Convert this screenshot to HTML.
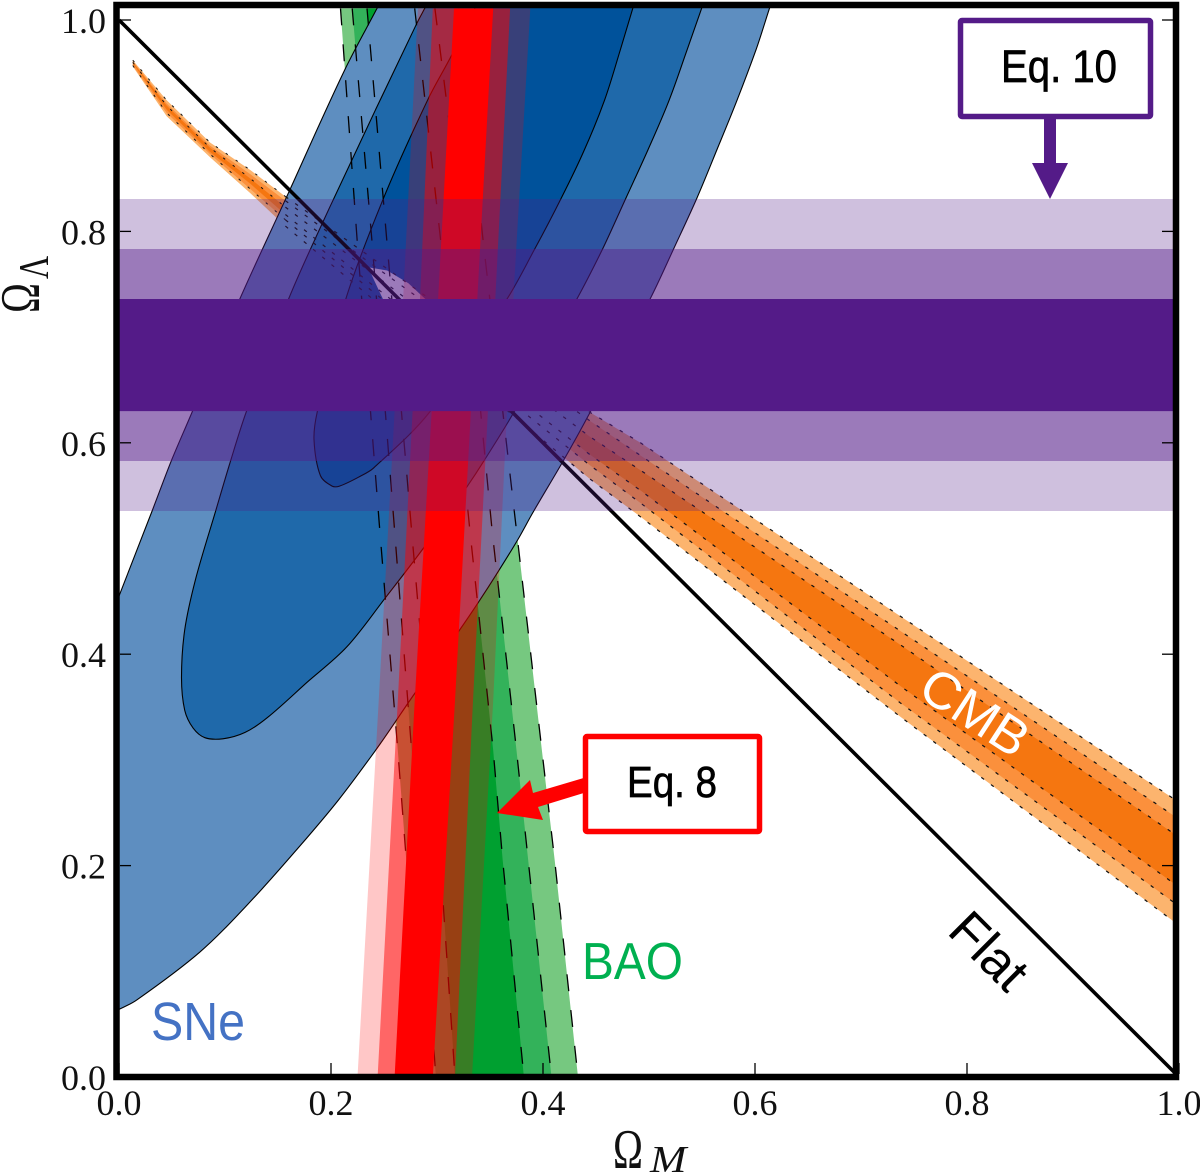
<!DOCTYPE html>
<html lang="en">
<head>
<meta charset="utf-8">
<title>Omega M vs Omega Lambda constraints</title>
<style>
html,body{margin:0;padding:0;background:#fff;}
svg{display:block;}
.tick-label{font-family:"Liberation Serif",serif;font-size:36px;fill:#111;}
.sans{font-family:"Liberation Sans",sans-serif;}
.serif{font-family:"Liberation Serif",serif;}
</style>
</head>
<body>
<svg id="chart" xmlns="http://www.w3.org/2000/svg" width="1200" height="1174" viewBox="0 0 1200 1174">
  <defs>
    <clipPath id="plot-clip"><rect x="116" y="4" width="1060" height="1073"/></clipPath>
  </defs>
  <g id="plot-layers" clip-path="url(#plot-clip)">
    <g id="bao-fills"></g>
    <g id="cmb-fills"></g>
    <g id="sne-fills"></g>
    <g id="dash-lines"></g>
    <g id="flat-layer"></g>
    <g id="red-fills"></g>
    <g id="purple-fills"></g>
  </g>
  <rect x="116.5" y="5" width="1059.5" height="1072" fill="none" stroke="#000" stroke-width="6.5"/>
  <g id="ticks"></g>
  <g id="tick-labels"></g>

  <g class="serif" fill="#111">
    <text transform="translate(39,313) rotate(-90) scale(.72,1)" font-size="56">Ω</text>
    <text transform="translate(48,279) rotate(-90) scale(.76,1)" font-size="42">Λ</text>
  </g>
  <g class="serif" fill="#111">
    <text transform="translate(613,1168) scale(.72,1)" font-size="56">Ω</text>
    <text transform="translate(650,1172) scale(1.15,1)" font-size="38" font-style="italic">M</text>
  </g>

  <text class="sans" x="151" y="1040" font-size="54" fill="#4472c4" textLength="94" lengthAdjust="spacingAndGlyphs">SNe</text>
  <text class="sans" x="582" y="979" font-size="52" fill="#00b050" textLength="101" lengthAdjust="spacingAndGlyphs">BAO</text>
  <text class="sans" transform="translate(975,712) rotate(33)" y="18" x="-59" font-size="52" fill="#fff" textLength="118" lengthAdjust="spacingAndGlyphs">CMB</text>
  <text class="sans" transform="translate(990,950) rotate(45)" y="19" text-anchor="middle" font-size="52" fill="#000">Flat</text>

  <g>
    <polygon points="1044,116 1056,116 1056,163 1068,163 1050,199 1032,163 1044,163" fill="#541b88"/>
    <rect x="960.5" y="20.5" width="190" height="96" rx="1.5" fill="#fff" stroke="#541b88" stroke-width="5.5"/>
    <text class="sans" x="1001" y="82" font-size="45" fill="#000" stroke="#000" stroke-width=".7" textLength="116" lengthAdjust="spacingAndGlyphs">Eq. 10</text>
  </g>
  <g>
    <polygon points="587,777 533,793 530,780 497,813 543,820 538,807 587,792" fill="#ff0000"/>
    <rect x="585.5" y="736.5" width="174" height="95" rx="1.5" fill="#fff" stroke="#ff0000" stroke-width="5.5"/>
    <text class="sans" x="627" y="797" font-size="44" fill="#000" stroke="#000" stroke-width=".7" textLength="90" lengthAdjust="spacingAndGlyphs">Eq. 8</text>
  </g>
</svg>
<script>
// ---- axis data ----
const tickValues = [0, 0.2, 0.4, 0.6, 0.8, 1.0];
const xTickLabels = ['0.0', '0.2', '0.4', '0.6', '0.8', '1.0'];
const yTickLabels = ['0.0', '0.2', '0.4', '0.6', '0.8', '1.0'];
const flatLineM = [0, 1];
const flatLineL = [1, 0];

// ---- BAO boundaries: Omega_M at each Omega_Lambda ----
const baoLambda     = [1.011, 0.787, 0.517, 0.309, 0.205, 0];
const baoLeftOuter  = [0.209, 0.225, 0.246, 0.263, 0.271, 0.284];
const baoLeftMid    = [0.220, 0.239, 0.260, 0.276, 0.284, 0.299];
const baoLeftInner  = [0.234, 0.253, 0.276, 0.294, 0.303, 0.317];
const baoRightInner = [0.279, 0.304, 0.331, 0.353, 0.362, 0.382];
const baoRightMid   = [0.298, 0.326, 0.352, 0.375, 0.386, 0.408];
const baoRightOuter = [0.320, 0.344, 0.375, 0.399, 0.411, 0.433];

// ---- CMB boundaries: Omega_Lambda at each Omega_M ----
const cmbOmegaM    = [0.013, 0.045, 0.086, 0.124, 0.157, 0.237, 0.444, 0.492, 0.737, 0.994, 1.0];
const cmbUpperOuter = [0.962, 0.924, 0.884, 0.858, 0.833, 0.776, 0.629, 0.600, 0.436, 0.264, 0.260];
const cmbUpperMid   = [0.961, 0.921, 0.881, 0.854, 0.829, 0.770, 0.621, 0.588, 0.422, 0.248, 0.244];
const cmbUpperInner = [0.960, 0.919, 0.879, 0.850, 0.823, 0.762, 0.606, 0.574, 0.409, 0.231, 0.227];
const cmbLowerInner = [0.959, 0.915, 0.875, 0.845, 0.816, 0.751, 0.589, 0.555, 0.370, 0.184, 0.180];
const cmbLowerMid   = [0.957, 0.912, 0.873, 0.840, 0.811, 0.745, 0.579, 0.543, 0.354, 0.166, 0.162];
const cmbLowerOuter = [0.956, 0.909, 0.870, 0.836, 0.805, 0.738, 0.566, 0.530, 0.341, 0.148, 0.143];

// ---- SNe contours ----
const sneOuterM = [-0.03, 0, 0.031, 0.049, 0.069, 0.114, 0.161, 0.213, 0.244, 0.614, 0.601, 0.583, 0.564, 0.545, 0.523, 0.501, 0.444, 0.418, 0.391, 0.376, 0.357, 0.339, 0.320, 0.277, 0.260, 0.242, 0.207, 0.171, 0.124, 0.076, 0.017, 0, -0.03];
const sneOuterL = [0.378, 0.455, 0.535, 0.582, 0.629, 0.736, 0.839, 0.953, 1.012, 1.012, 0.972, 0.924, 0.877, 0.831, 0.783, 0.736, 0.628, 0.581, 0.535, 0.508, 0.477, 0.449, 0.421, 0.360, 0.335, 0.309, 0.262, 0.219, 0.166, 0.118, 0.073, 0.064, 0.050];
const sneMidM = [0.289, 0.550, 0.536, 0.519, 0.499, 0.478, 0.456, 0.432, 0.372, 0.345, 0.328, 0.287, 0.251, 0.215, 0.177, 0.140, 0.119, 0.098, 0.081, 0.070, 0.062, 0.059, 0.062, 0.072, 0.091, 0.105, 0.120, 0.160, 0.192, 0.242, 0.281];
const sneMidL = [1.012, 1.012, 0.972, 0.924, 0.877, 0.831, 0.783, 0.736, 0.628, 0.584, 0.558, 0.500, 0.453, 0.407, 0.373, 0.340, 0.326, 0.320, 0.321, 0.330, 0.347, 0.378, 0.423, 0.470, 0.535, 0.582, 0.629, 0.736, 0.808, 0.915, 0.997];
const sneInnerM = [0.336, 0.485, 0.473, 0.458, 0.439, 0.417, 0.392, 0.366, 0.293, 0.240, 0.227, 0.208, 0.201, 0.190, 0.184, 0.187, 0.214, 0.249, 0.291, 0.314];
const sneInnerL = [1.012, 1.012, 0.972, 0.924, 0.877, 0.831, 0.783, 0.736, 0.629, 0.576, 0.568, 0.559, 0.559, 0.569, 0.603, 0.629, 0.736, 0.830, 0.924, 0.967];
const lensM = [0.235, 0.253, 0.273, 0.289, 0.249];
const lensL = [0.766, 0.763, 0.751, 0.736, 0.736];

// ---- Eq. 8 (red) bands: Omega_M at each Omega_Lambda ----
const redLambda     = [1.011, 0.736, 0.630, 0.356, 0];
const redLeftOuter  = [0.282, 0.268, 0.260, 0.245, 0.225];
const redLeftMid    = [0.296, 0.284, 0.277, 0.263, 0.244];
const redLeftInner  = [0.316, 0.301, 0.295, 0.279, 0.260];
const redRightInner = [0.353, 0.338, 0.332, 0.317, 0.296];
const redRightMid   = [0.369, 0.355, 0.348, 0.334, 0.317];
const redRightOuter = [0.388, 0.372, 0.366, 0.353, 0.333];

// ---- Eq. 10 (purple) bands ----
const purpleLow  = [0.5355, 0.5828, 0.630];
const purpleHigh = [0.8306, 0.7833, 0.736];

// ---- axis functions ----
const NS = 'http://www.w3.org/2000/svg';
function sx(m) { return 119 + 1060 * m; }
function sy(l) { return 1077 - 1057 * l; }

function byId(id) { return document.getElementById(id); }

function pathFrom(ms, ls, close) {
  let d = '';
  for (let i = 0; i < ms.length; i++) {
    d += (i ? 'L' : 'M') + sx(ms[i]).toFixed(1) + ' ' + sy(ls[i]).toFixed(1);
  }
  return d + (close ? 'Z' : '');
}

// smooth closed contour; sharp vertices stay as corners
function smoothClosed(ms, ls) {
  const n = ms.length;
  const px = ms.map(sx);
  const py = ls.map(sy);
  function unit(dx, dy) {
    const h = Math.hypot(dx, dy) || 1;
    return [dx / h, dy / h];
  }
  const inDir = [];
  const outDir = [];
  for (let i = 0; i < n; i++) {
    const a = (i - 1 + n) % n;
    const b = (i + 1) % n;
    const u = unit(px[i] - px[a], py[i] - py[a]);
    const v = unit(px[b] - px[i], py[b] - py[i]);
    const isCorner = (u[0] * v[0] + u[1] * v[1]) < 0.7;
    if (isCorner) {
      inDir[i] = u;
      outDir[i] = v;
    } else {
      const t = unit(px[b] - px[a], py[b] - py[a]);
      inDir[i] = t;
      outDir[i] = t;
    }
  }
  let d = 'M' + px[0].toFixed(1) + ' ' + py[0].toFixed(1);
  for (let i = 0; i < n; i++) {
    const j = (i + 1) % n;
    const len = Math.hypot(px[j] - px[i], py[j] - py[i]) / 3;
    d += 'C' + (px[i] + outDir[i][0] * len).toFixed(1) + ' ' + (py[i] + outDir[i][1] * len).toFixed(1) +
         ' ' + (px[j] - inDir[j][0] * len).toFixed(1) + ' ' + (py[j] - inDir[j][1] * len).toFixed(1) +
         ' ' + px[j].toFixed(1) + ' ' + py[j].toFixed(1);
  }
  return d + 'Z';
}

function addPath(parent, name, d, fill, opacity, stroke, strokeWidth, dash) {
  const el = document.createElementNS(NS, 'path');
  
  
  el.setAttribute('d', d);
  el.setAttribute('fill', fill);
  if (opacity < 1) el.setAttribute('fill-opacity', opacity);
  if (stroke) {
    el.setAttribute('stroke', stroke);
    el.setAttribute('stroke-width', strokeWidth);
  }
  if (dash) el.setAttribute('stroke-dasharray', dash);
  parent.appendChild(el);
  return el;
}

// band between two boundaries sharing Omega_Lambda grid (vertical bands)
function verticalBand(leftVals, rightVals, grid) {
  const ms = leftVals.concat(rightVals.slice().reverse());
  const ls = grid.concat(grid.slice().reverse());
  return pathFrom(ms, ls, true);
}
// band between two boundaries sharing Omega_M grid (diagonal bands)
function diagonalBand(upperVals, lowerVals, grid) {
  const ms = grid.concat(grid.slice().reverse());
  const ls = upperVals.concat(lowerVals.slice().reverse());
  return pathFrom(ms, ls, true);
}

// BAO fills
const baoG = byId('bao-fills');
addPath(baoG, 'bao-band-outer', verticalBand(baoLeftOuter, baoRightOuter, baoLambda), '#76c880', 1);
addPath(baoG, 'bao-band-mid', verticalBand(baoLeftMid, baoRightMid, baoLambda), '#33b25a', 1);
addPath(baoG, 'bao-band-inner', verticalBand(baoLeftInner, baoRightInner, baoLambda), '#00a030', 1);

// CMB fills
const cmbG = byId('cmb-fills');
addPath(cmbG, 'cmb-band-outer', diagonalBand(cmbUpperOuter, cmbLowerOuter, cmbOmegaM), '#fcb46e', 1);
addPath(cmbG, 'cmb-band-mid', diagonalBand(cmbUpperMid, cmbLowerMid, cmbOmegaM), '#fb903c', 1);
addPath(cmbG, 'cmb-band-inner', diagonalBand(cmbUpperInner, cmbLowerInner, cmbOmegaM), '#f57610', 1);

// SNe fills
const sneG = byId('sne-fills');
addPath(sneG, 'sne-contour-outer', smoothClosed(sneOuterM, sneOuterL), '#5e8ec0', 1, '#000', 1.1);
addPath(sneG, 'sne-contour-mid', smoothClosed(sneMidM, sneMidL), '#1f69aa', 1, '#000', 1.1);
addPath(sneG, 'sne-contour-inner', smoothClosed(sneInnerM, sneInnerL), '#00529b', 1, '#000', 1.1);
addPath(sneG, 'contour-intersection-lens', pathFrom(lensM, lensL, true), '#ffffff', 1);

// boundary lines
const lineG = byId('dash-lines');
[baoLeftOuter, baoLeftMid, baoLeftInner, baoRightInner, baoRightMid, baoRightOuter].forEach(function (vals) {
  addPath(lineG, 'bao-dashed-line', pathFrom(vals, baoLambda, false), 'none', 1, '#000', 1.3, '17 19');
});
[cmbUpperOuter, cmbUpperMid, cmbUpperInner, cmbLowerInner, cmbLowerMid, cmbLowerOuter].forEach(function (vals) {
  addPath(lineG, 'cmb-dotted-line', pathFrom(cmbOmegaM.slice(4), vals.slice(4), false), 'none', 1, '#111', 1.2, '3.5 8.5');
});
[cmbUpperOuter, cmbUpperInner, cmbLowerMid].forEach(function (vals) {
  addPath(lineG, 'cmb-tip-dotted-line', pathFrom(cmbOmegaM.slice(0, 5), vals.slice(0, 5), false), 'none', 1, '#111', 1, '2.5 9.5');
});

// flat line
addPath(byId('flat-layer'), 'flat-universe-line', pathFrom(flatLineM, flatLineL, false), 'none', 1, '#000', 3.6);

// red bands
const redG = byId('red-fills');
addPath(redG, 'eq-8-band-outer', verticalBand(redLeftOuter, redRightOuter, redLambda), '#ff0000', 0.22);
addPath(redG, 'eq-8-band-mid', verticalBand(redLeftMid, redRightMid, redLambda), '#ff0000', 0.487);
addPath(redG, 'eq-8-band-inner', verticalBand(redLeftInner, redRightInner, redLambda), '#ff0000', 1);

// purple bands
const purpleG = byId('purple-fills');
const purpleAlpha = [0.28, 0.425, 1];
const purpleNames = ['eq-10-band-outer', 'eq-10-band-mid', 'eq-10-band-inner'];
purpleLow.forEach(function (low, i) {
  const high = purpleHigh[i];
  const d = 'M0 ' + sy(high) + 'H1200V' + sy(low) + 'H0Z';
  addPath(purpleG, purpleNames[i], d, '#541b88', purpleAlpha[i]);
});

// ticks and labels
const tickG = byId('ticks');
const labelG = byId('tick-labels');
function addTick(name, x1, y1, x2, y2) {
  const t = document.createElementNS(NS, 'line');
  
  
  t.setAttribute('x1', x1);
  t.setAttribute('y1', y1);
  t.setAttribute('x2', x2);
  t.setAttribute('y2', y2);
  t.setAttribute('stroke', '#000');
  t.setAttribute('stroke-width', '1.3');
  tickG.appendChild(t);
}
function addLabel(name, text, x, y, anchor) {
  const t = document.createElementNS(NS, 'text');
  
  
  t.setAttribute('class', 'tick-label');
  t.setAttribute('x', x);
  t.setAttribute('y', y);
  t.setAttribute('text-anchor', anchor);
  t.textContent = text;
  labelG.appendChild(t);
}
tickValues.forEach(function (v, i) {
  addTick('x-tick', sx(v), 1074, sx(v), 1063);
  addTick('y-tick-left', 120, sy(v), 131, sy(v));
  addTick('y-tick-right', 1173, sy(v), 1162, sy(v));
  addLabel('x-tick-label', xTickLabels[i], sx(v), 1115, 'middle');
  addLabel('y-tick-label', yTickLabels[i], 106, sy(v) + 13, 'end');
});
</script>
</body>
</html>
